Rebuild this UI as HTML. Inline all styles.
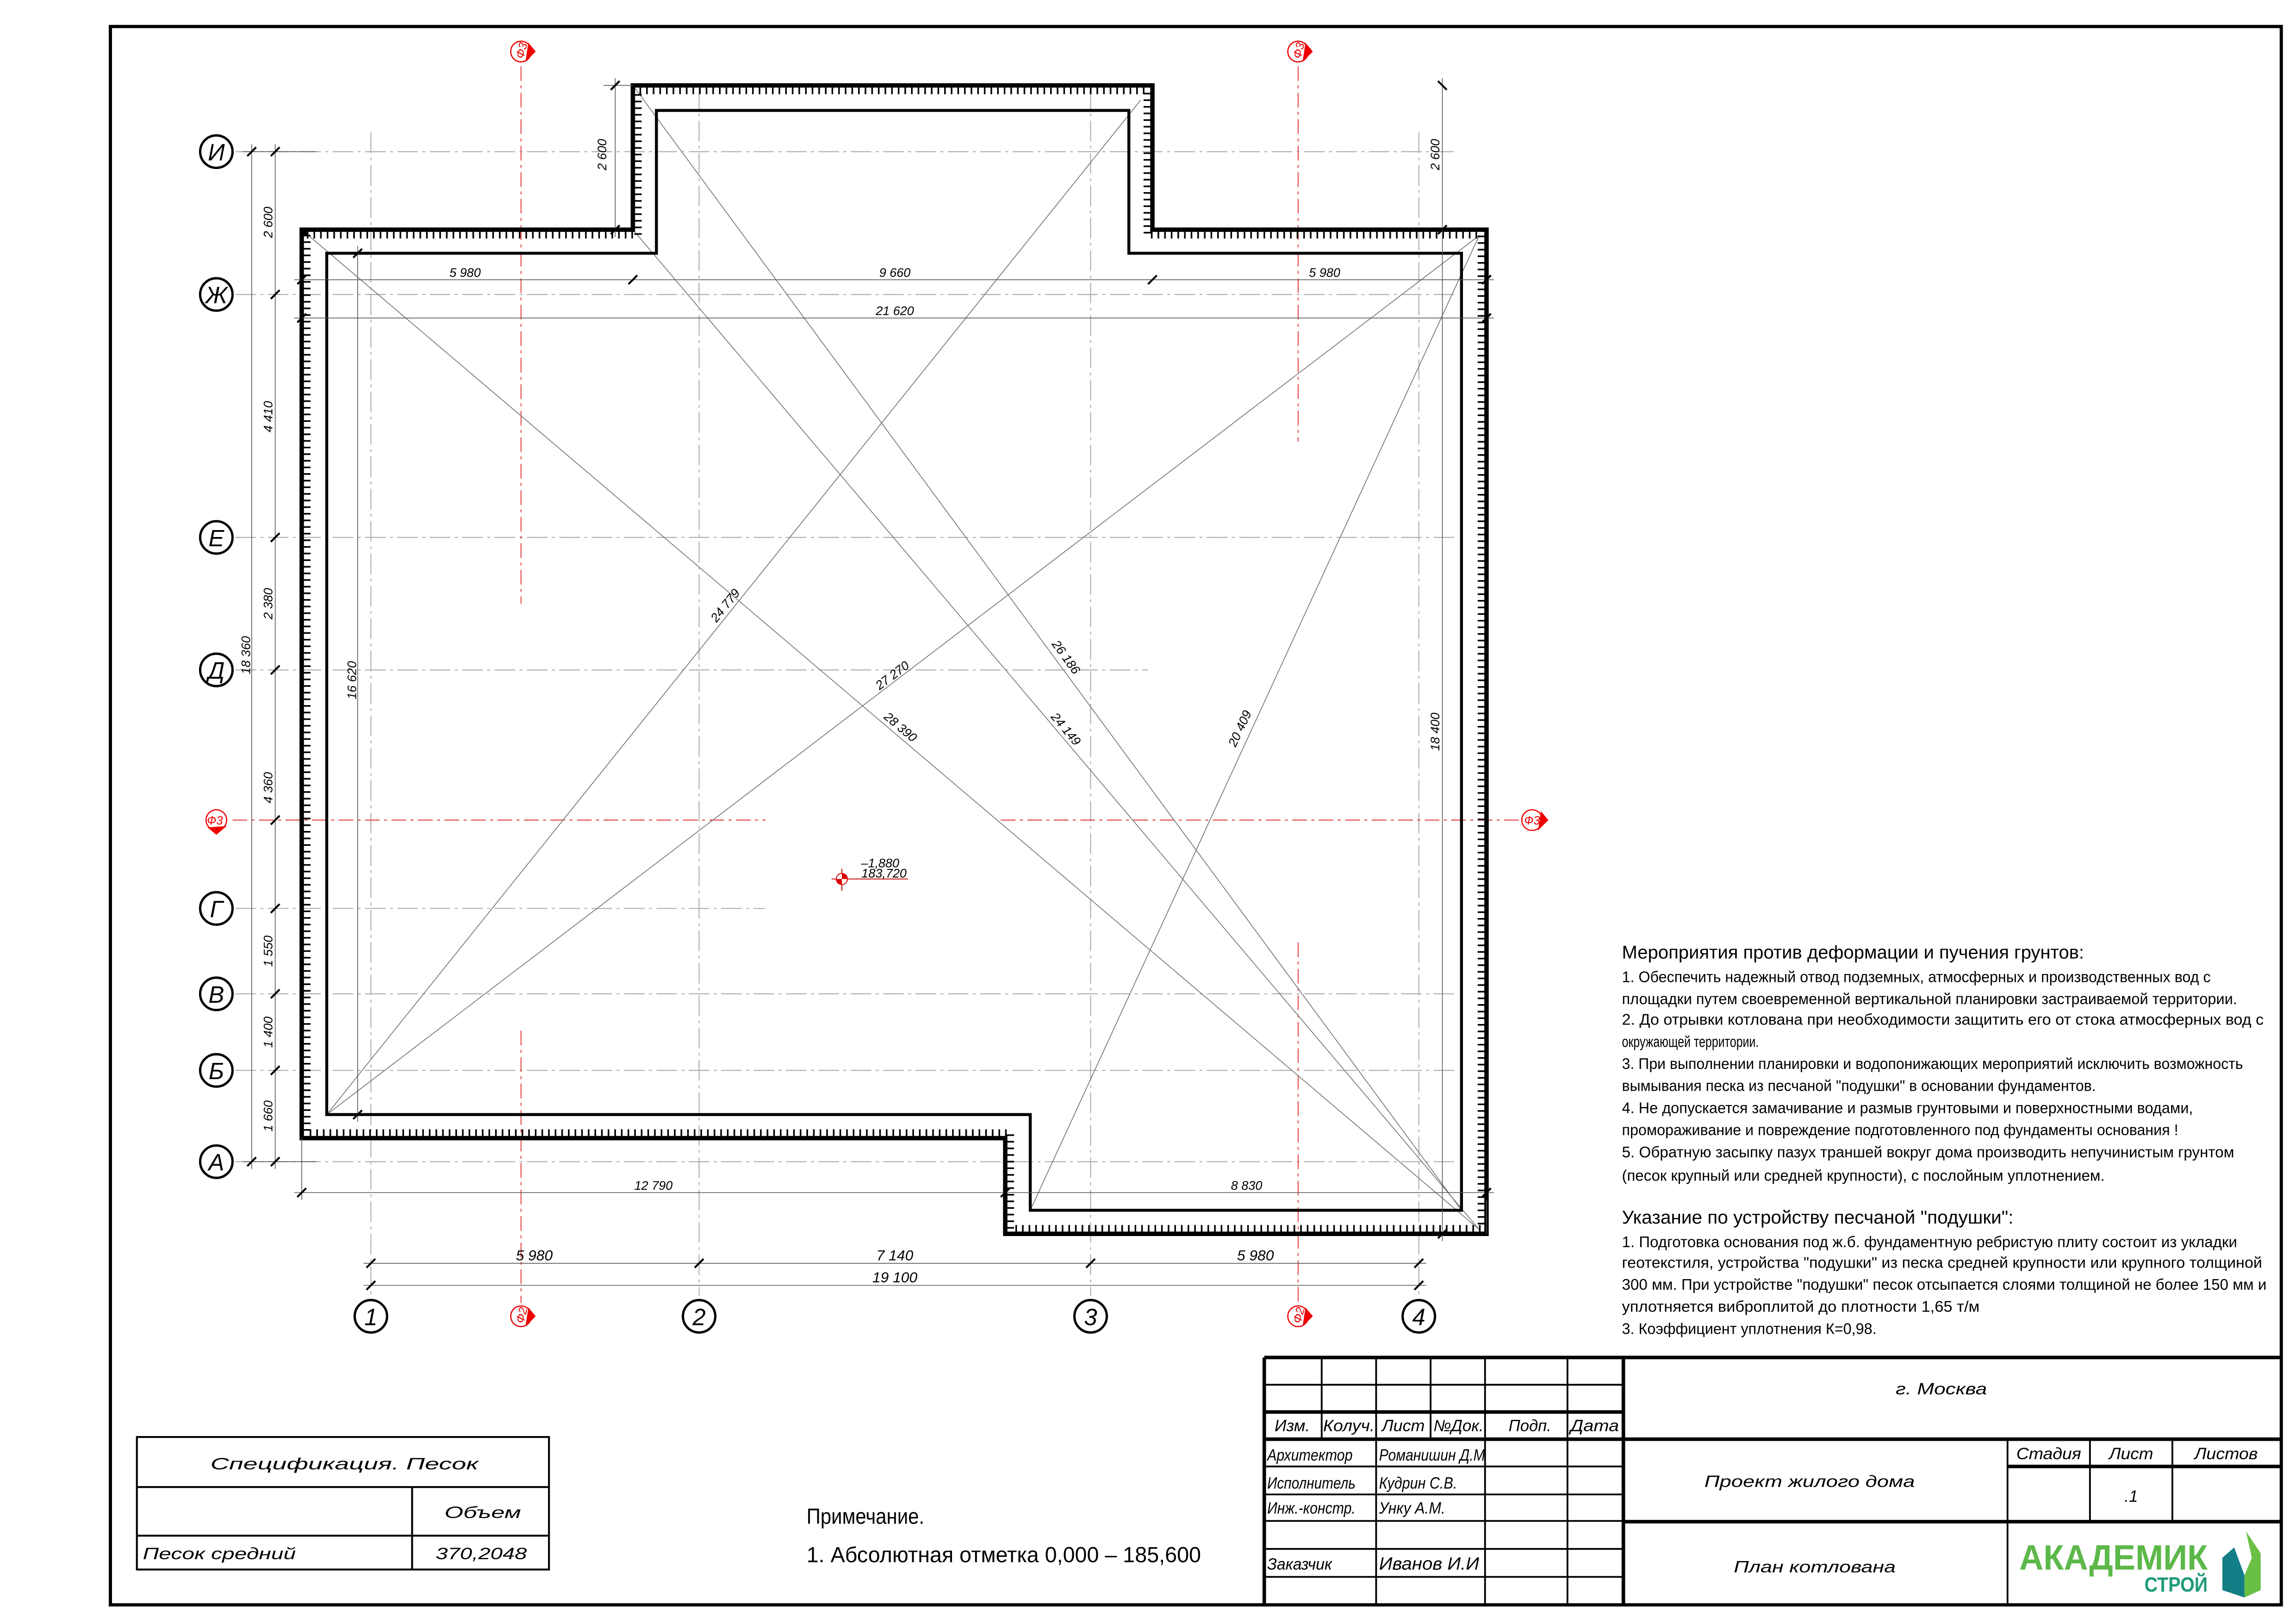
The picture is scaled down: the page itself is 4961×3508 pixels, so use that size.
<!DOCTYPE html>
<html><head><meta charset="utf-8"><style>
html,body{margin:0;padding:0;background:#fff;}
svg{display:block;}
text{font-family:"Liberation Sans","DejaVu Sans",sans-serif;}
.d{font-size:8.5px;font-style:italic;fill:#000;}
.n{font-size:10.5px;fill:#000;}
.t{font-size:11px;font-style:italic;fill:#000;}
.ax{stroke:#b0b0b0;stroke-width:0.7;stroke-dasharray:14 3 2 3;fill:none;}
.rx{stroke:#e03030;stroke-width:0.6;stroke-dasharray:10 3 2 3;fill:none;}
.dl{stroke:#555;stroke-width:0.5;fill:none;}
.tk{stroke:#000;stroke-width:1.3;}
.dg{stroke:#777;stroke-width:0.55;fill:none;}
.gt{stroke:#000;stroke-width:3;fill:none;}
</style></head><body>
<svg width="4961" height="3508" viewBox="0 0 1560 1103" preserveAspectRatio="none" xmlns="http://www.w3.org/2000/svg">
<rect x="0" y="0" width="1560" height="1103" fill="#fff"/>
<rect x="75" y="18" width="1475" height="1072" fill="none" stroke="#000" stroke-width="2.2"/>

<g class="ax">
<line x1="160" y1="103" x2="990" y2="103"/>
<line x1="160" y1="200" x2="990" y2="200"/>
<line x1="160" y1="365" x2="990" y2="365"/>
<line x1="160" y1="455" x2="780" y2="455"/>
<line x1="160" y1="617" x2="520" y2="617"/>
<line x1="160" y1="675" x2="990" y2="675"/>
<line x1="160" y1="727" x2="990" y2="727"/>
<line x1="160" y1="789" x2="990" y2="789"/>
<line x1="252" y1="90" x2="252" y2="880"/>
<line x1="475" y1="60" x2="475" y2="880"/>
<line x1="741" y1="60" x2="741" y2="880"/>
<line x1="964" y1="90" x2="964" y2="880"/>
</g>
<g class="rx">
<line x1="354" y1="45" x2="354" y2="410"/>
<line x1="354" y1="700" x2="354" y2="885"/>
<line x1="882" y1="45" x2="882" y2="300"/>
<line x1="882" y1="640" x2="882" y2="885"/>
<line x1="158" y1="557" x2="520" y2="557"/>
<line x1="680" y1="557" x2="1032" y2="557"/>
</g>

<g class="dg">
<line x1="205" y1="156" x2="1005" y2="835"/>
<line x1="430" y1="58" x2="993" y2="822"/>
<line x1="430" y1="156" x2="1005" y2="835"/>
<line x1="222" y1="757" x2="775" y2="68"/>
<line x1="222" y1="757" x2="1005" y2="160"/>
<line x1="700" y1="822" x2="1005" y2="160"/>
</g>

<path d="M205,156 L430,156 L430,58 L783,58 L783,156 L1010,156 L1010,838 L683,838 L683,773 L205,773 Z" class="gt"/>
<path d="M208.5,159.5 L433.5,159.5 L433.5,61.5 L779.5,61.5 L779.5,159.5 L1006.5,159.5 L1006.5,834.5 L686.5,834.5 L686.5,769.5 L208.5,769.5 Z" fill="none" stroke="#000" stroke-width="5" stroke-dasharray="1.1 3.4"/>
<path d="M222,172 L446,172 L446,75 L767,75 L767,172 L993,172 L993,822 L700,822 L700,757 L222,757 Z" fill="none" stroke="#000" stroke-width="2"/>

<g class="dl">
<line x1="171" y1="98" x2="171" y2="794"/>
<line x1="187" y1="98" x2="187" y2="794"/>
<line x1="165" y1="103" x2="215" y2="103"/>
<line x1="165" y1="789" x2="215" y2="789"/>
<line x1="200" y1="190" x2="1015" y2="190"/>
<line x1="200" y1="216" x2="1015" y2="216"/>
<line x1="418" y1="53" x2="418" y2="161"/>
<line x1="980" y1="53" x2="980" y2="843"/>
<line x1="410" y1="58" x2="430" y2="58"/>
<line x1="243" y1="167" x2="243" y2="762"/>
<line x1="200" y1="810" x2="1015" y2="810"/>
<line x1="205" y1="773" x2="205" y2="815"/>
<line x1="1010" y1="838" x2="1010" y2="815"/>
<line x1="247" y1="858" x2="969" y2="858"/>
<line x1="247" y1="873" x2="969" y2="873"/>
</g>
<g class="tk">
<line x1="168" y1="106" x2="174" y2="100"/><line x1="168" y1="792" x2="174" y2="786"/>
<line x1="184" y1="106" x2="190" y2="100"/><line x1="184" y1="203" x2="190" y2="197"/>
<line x1="184" y1="368" x2="190" y2="362"/><line x1="184" y1="458" x2="190" y2="452"/>
<line x1="184" y1="560" x2="190" y2="554"/><line x1="184" y1="620" x2="190" y2="614"/>
<line x1="184" y1="678" x2="190" y2="672"/><line x1="184" y1="730" x2="190" y2="724"/>
<line x1="184" y1="792" x2="190" y2="786"/>
<line x1="202" y1="193" x2="208" y2="187"/><line x1="427" y1="193" x2="433" y2="187"/>
<line x1="780" y1="193" x2="786" y2="187"/><line x1="1007" y1="193" x2="1013" y2="187"/>
<line x1="202" y1="219" x2="208" y2="213"/><line x1="1007" y1="219" x2="1013" y2="213"/>
<line x1="415" y1="61" x2="421" y2="55"/><line x1="415" y1="159" x2="421" y2="153"/>
<line x1="977" y1="55" x2="983" y2="61"/><line x1="977" y1="159" x2="983" y2="153"/><line x1="977" y1="841" x2="983" y2="835"/>
<line x1="240" y1="175" x2="246" y2="169"/><line x1="240" y1="760" x2="246" y2="754"/>
<line x1="202" y1="813" x2="208" y2="807"/><line x1="680" y1="813" x2="686" y2="807"/><line x1="1007" y1="813" x2="1013" y2="807"/>
<line x1="249" y1="861" x2="255" y2="855"/><line x1="472" y1="861" x2="478" y2="855"/><line x1="738" y1="861" x2="744" y2="855"/><line x1="961" y1="861" x2="967" y2="855"/>
<line x1="249" y1="876" x2="255" y2="870"/><line x1="961" y1="876" x2="967" y2="870"/>
</g>
<g class="d">
<text transform="translate(185,151) rotate(-90)" text-anchor="middle">2 600</text>
<text transform="translate(185,283) rotate(-90)" text-anchor="middle">4 410</text>
<text transform="translate(185,410) rotate(-90)" text-anchor="middle">2 380</text>
<text transform="translate(185,535) rotate(-90)" text-anchor="middle">4 360</text>
<text transform="translate(185,646) rotate(-90)" text-anchor="middle">1 550</text>
<text transform="translate(185,701) rotate(-90)" text-anchor="middle">1 400</text>
<text transform="translate(185,758) rotate(-90)" text-anchor="middle">1 660</text>
<text transform="translate(170,445) rotate(-90)" text-anchor="middle">18 360</text>
<text transform="translate(412,105) rotate(-90)" text-anchor="middle">2 600</text>
<text transform="translate(978,105) rotate(-90)" text-anchor="middle">2 600</text>
<text transform="translate(978,497) rotate(-90)" text-anchor="middle">18 400</text>
<text transform="translate(242,462) rotate(-90)" text-anchor="middle">16 620</text>
<text x="316" y="188" text-anchor="middle">5 980</text>
<text x="608" y="188" text-anchor="middle">9 660</text>
<text x="900" y="188" text-anchor="middle">5 980</text>
<text x="608" y="214" text-anchor="middle">21 620</text>
<text x="444" y="808" text-anchor="middle">12 790</text>
<text x="847" y="808" text-anchor="middle">8 830</text>
<text x="363" y="856" text-anchor="middle" font-size="10">5 980</text>
<text x="608" y="856" text-anchor="middle" font-size="10">7 140</text>
<text x="853" y="856" text-anchor="middle" font-size="10">5 980</text>
<text x="608" y="871" text-anchor="middle" font-size="10">19 100</text>
<text transform="translate(495,413) rotate(-51)" text-anchor="middle">24 779</text>
<text transform="translate(608,461) rotate(-37)" text-anchor="middle">27 270</text>
<text transform="translate(610,496) rotate(40)" text-anchor="middle">28 390</text>
<text transform="translate(722,448) rotate(54)" text-anchor="middle">26 186</text>
<text transform="translate(722,497) rotate(50)" text-anchor="middle">24 149</text>
<text transform="translate(845,496) rotate(-65)" text-anchor="middle">20 409</text>
</g>

<g fill="#fff" stroke="#000" stroke-width="1.6">
<circle cx="147" cy="103" r="11"/><circle cx="147" cy="200" r="11"/><circle cx="147" cy="365" r="11"/>
<circle cx="147" cy="455" r="11"/><circle cx="147" cy="617" r="11"/><circle cx="147" cy="675" r="11"/>
<circle cx="147" cy="727" r="11"/><circle cx="147" cy="789" r="11"/>
<circle cx="252" cy="894" r="11"/><circle cx="475" cy="894" r="11"/><circle cx="741" cy="894" r="11"/><circle cx="964" cy="894" r="11"/>
</g>
<g font-size="16" font-style="italic" text-anchor="middle" fill="#000">
<text x="147" y="109">И</text><text x="147" y="206">Ж</text><text x="147" y="371">Е</text><text x="147" y="461">Д</text>
<text x="147" y="623">Г</text><text x="147" y="681">В</text><text x="147" y="733">Б</text><text x="147" y="795">А</text>
<text x="252" y="900">1</text><text x="475" y="900">2</text><text x="741" y="900">3</text><text x="964" y="900">4</text>
</g>

<g fill="none" stroke="#e00" stroke-width="0.8">
<circle cx="354" cy="35" r="7"/><circle cx="882" cy="35" r="7"/><circle cx="147" cy="557" r="7"/>
<circle cx="1041" cy="557" r="7"/><circle cx="354" cy="894" r="7"/><circle cx="882" cy="894" r="7"/>
</g>
<g fill="#e00">
<path d="M359,29 L364,35 L357,42 Z"/><path d="M887,29 L892,35 L885,42 Z"/>
<path d="M141,562 L147,567 L154,561 Z"/><path d="M1047,551 L1052,557 L1045,564 Z"/>
<path d="M359,888 L364,894 L357,901 Z"/><path d="M887,888 L892,894 L885,901 Z"/>
</g>
<g font-size="8" font-style="italic" fill="#e00" text-anchor="middle">
<text transform="translate(357,35) rotate(-75)">Ф3</text>
<text transform="translate(885,35) rotate(-75)">Ф3</text>
<text x="146" y="560">Ф3</text>
<text x="1041" y="560">Ф3</text>
<text transform="translate(357,894) rotate(-75)">Ф2</text>
<text transform="translate(885,894) rotate(-75)">Ф2</text>
</g>

<line x1="565" y1="597" x2="617" y2="597" stroke="#c00" stroke-width="0.6"/>
<line x1="572" y1="590" x2="572" y2="605" stroke="#c00" stroke-width="0.6"/>
<circle cx="572" cy="597" r="3.8" fill="#fff" stroke="#c00" stroke-width="0.6"/>
<path d="M572,597 L572,593.2 A3.8,3.8 0 0 1 575.8,597 Z M572,597 L572,600.8 A3.8,3.8 0 0 1 568.2,597 Z" fill="#d00"/>
<text x="611" y="589" class="d" font-size="8" text-anchor="end">–1,880</text>
<text x="616" y="596" class="d" font-size="8" text-anchor="end">183,720</text>

<text x="1102" y="651" font-size="12.5" textLength="314" lengthAdjust="spacingAndGlyphs">Мероприятия против деформации и пучения грунтов:</text>
<g class="n">
<text x="1102" y="667" textLength="400" lengthAdjust="spacingAndGlyphs">1. Обеспечить надежный отвод подземных, атмосферных и производственных вод с</text>
<text x="1102" y="682" textLength="418" lengthAdjust="spacingAndGlyphs">площадки путем своевременной вертикальной планировки застраиваемой территории.</text>
<text x="1102" y="696" textLength="436" lengthAdjust="spacingAndGlyphs">2. До отрывки котлована при необходимости защитить его от стока атмосферных вод с</text>
<text x="1102" y="711" textLength="93" lengthAdjust="spacingAndGlyphs">окружающей территории.</text>
<text x="1102" y="726" textLength="422" lengthAdjust="spacingAndGlyphs">3. При выполнении планировки и водопонижающих мероприятий исключить возможность</text>
<text x="1102" y="741" textLength="322" lengthAdjust="spacingAndGlyphs">вымывания песка из песчаной "подушки" в основании фундаментов.</text>
<text x="1102" y="756" textLength="388" lengthAdjust="spacingAndGlyphs">4. Не допускается замачивание и размыв грунтовыми и поверхностными водами,</text>
<text x="1102" y="771" textLength="378" lengthAdjust="spacingAndGlyphs">промораживание и повреждение подготовленного под фундаменты основания !</text>
<text x="1102" y="786" textLength="416" lengthAdjust="spacingAndGlyphs">5. Обратную засыпку пазух траншей вокруг дома производить непучинистым грунтом</text>
<text x="1102" y="802" textLength="328" lengthAdjust="spacingAndGlyphs">(песок крупный или средней крупности), с послойным уплотнением.</text>
</g>
<text x="1102" y="831" font-size="12.5" textLength="266" lengthAdjust="spacingAndGlyphs">Указание по устройству песчаной "подушки":</text>
<g class="n">
<text x="1102" y="847" textLength="418" lengthAdjust="spacingAndGlyphs">1. Подготовка основания под ж.б. фундаментную ребристую плиту состоит из укладки</text>
<text x="1102" y="861" textLength="435" lengthAdjust="spacingAndGlyphs">геотекстиля, устройства "подушки" из песка средней крупности или крупного толщиной</text>
<text x="1102" y="876" textLength="438" lengthAdjust="spacingAndGlyphs">300 мм. При устройстве "подушки" песок отсыпается слоями толщиной не более 150 мм и</text>
<text x="1102" y="891" textLength="243" lengthAdjust="spacingAndGlyphs">уплотняется виброплитой до плотности 1,65 т/м</text>
<text x="1102" y="906" textLength="173" lengthAdjust="spacingAndGlyphs">3. Коэффициент уплотнения К=0,98.</text>
</g>

<g stroke="#000" stroke-width="1.3" fill="none">
<rect x="93" y="976" width="280" height="90"/>
<line x1="93" y1="1010" x2="373" y2="1010"/>
<line x1="93" y1="1043" x2="373" y2="1043"/>
<line x1="280" y1="1010" x2="280" y2="1066"/>
</g>
<text x="143" y="998" class="t" font-size="17" textLength="182" lengthAdjust="spacingAndGlyphs">Спецификация. Песок</text>
<text x="302" y="1031" class="t" font-size="17" textLength="52" lengthAdjust="spacingAndGlyphs">Объем</text>
<text x="97" y="1059" class="t" font-size="15" textLength="104" lengthAdjust="spacingAndGlyphs">Песок средний</text>
<text x="296" y="1059" class="t" font-size="15" textLength="62" lengthAdjust="spacingAndGlyphs">370,2048</text>

<text x="548" y="1035" font-size="15" textLength="80" lengthAdjust="spacingAndGlyphs">Примечание.</text>
<text x="548" y="1061" font-size="15" textLength="268" lengthAdjust="spacingAndGlyphs">1. Абсолютная отметка 0,000 – 185,600</text>

<g stroke="#000" fill="none">
<g stroke-width="1.2">
<line x1="898" y1="922" x2="898" y2="977"/><line x1="972" y1="922" x2="972" y2="977"/>
<line x1="935" y1="922" x2="935" y2="1089"/><line x1="1009" y1="922" x2="1009" y2="1089"/>
<line x1="1065" y1="922" x2="1065" y2="1089"/>
<line x1="859" y1="940.5" x2="1103" y2="940.5"/>
<line x1="859" y1="996" x2="1103" y2="996"/><line x1="859" y1="1015" x2="1103" y2="1015"/>
<line x1="859" y1="1033" x2="1103" y2="1033"/><line x1="859" y1="1052" x2="1103" y2="1052"/>
<line x1="859" y1="1071" x2="1103" y2="1071"/>
<line x1="1364" y1="977" x2="1364" y2="1033"/><line x1="1420" y1="977" x2="1420" y2="1033"/><line x1="1476" y1="977" x2="1476" y2="1033"/>
<line x1="1364" y1="1033" x2="1364" y2="1089"/>
</g>
<g stroke-width="2.4">
<line x1="859" y1="922" x2="1550" y2="922"/>
<line x1="859" y1="922" x2="859" y2="1089"/>
<line x1="1103" y1="922" x2="1103" y2="1089"/>
<line x1="859" y1="959" x2="1103" y2="959"/>
<line x1="859" y1="977.5" x2="1550" y2="977.5"/>
<line x1="1364" y1="996" x2="1550" y2="996"/>
<line x1="1103" y1="1033.5" x2="1550" y2="1033.5"/>
</g>
</g>
<g class="t" font-size="12">
<text x="866" y="972" textLength="24" lengthAdjust="spacingAndGlyphs">Изм.</text><text x="899" y="972" textLength="35" lengthAdjust="spacingAndGlyphs">Колуч.</text>
<text x="939" y="972" textLength="29" lengthAdjust="spacingAndGlyphs">Лист</text><text x="974" y="972" textLength="34" lengthAdjust="spacingAndGlyphs">№Док.</text>
<text x="1025" y="972" textLength="29" lengthAdjust="spacingAndGlyphs">Подп.</text><text x="1067" y="972" textLength="33" lengthAdjust="spacingAndGlyphs">Дата</text>
</g>
<g class="t" font-size="10.5">
<text x="861" y="992" textLength="58" lengthAdjust="spacingAndGlyphs">Архитектор</text>
<text x="937" y="992" textLength="72" lengthAdjust="spacingAndGlyphs">Романишин Д.М</text>
<text x="861" y="1011" textLength="60" lengthAdjust="spacingAndGlyphs">Исполнитель</text>
<text x="937" y="1011" textLength="53" lengthAdjust="spacingAndGlyphs">Кудрин С.В.</text>
<text x="861" y="1028" textLength="60" lengthAdjust="spacingAndGlyphs">Инж.-констр.</text>
<text x="937" y="1028" textLength="45" lengthAdjust="spacingAndGlyphs">Унку А.М.</text>
<text x="861" y="1066" textLength="44" lengthAdjust="spacingAndGlyphs">Заказчик</text>
<text x="937" y="1066" font-size="12" textLength="68" lengthAdjust="spacingAndGlyphs">Иванов И.И</text>
</g>
<text x="1288" y="947" class="t" font-size="16" textLength="62" lengthAdjust="spacingAndGlyphs">г. Москва</text>
<text x="1158" y="1010" class="t" font-size="16" textLength="143" lengthAdjust="spacingAndGlyphs">Проект жилого дома</text>
<text x="1178" y="1068" class="t" font-size="16" textLength="110" lengthAdjust="spacingAndGlyphs">План котлована</text>
<text x="1370" y="991" class="t" font-size="13" textLength="44" lengthAdjust="spacingAndGlyphs">Стадия</text>
<text x="1433" y="991" class="t" font-size="13" textLength="30" lengthAdjust="spacingAndGlyphs">Лист</text>
<text x="1491" y="991" class="t" font-size="13" textLength="43" lengthAdjust="spacingAndGlyphs">Листов</text>
<text x="1448" y="1020" class="t" font-size="12" text-anchor="middle">.1</text>

<text x="1372" y="1066" font-size="24" font-weight="bold" fill="#5db84a" textLength="128" lengthAdjust="spacingAndGlyphs">АКАДЕМИК</text>
<text x="1457" y="1081" font-size="14" font-weight="bold" fill="#1e9a7a" textLength="43" lengthAdjust="spacingAndGlyphs">СТРОЙ</text>
<path d="M1518,1051 L1510,1058 L1510,1080 L1525,1085 L1525,1070 Z" fill="#127e86"/>
<path d="M1526,1040 L1536,1055 L1536,1080 L1525,1085 L1525,1070 L1530,1058 Z" fill="#6abf45"/>
</svg>
</body></html>
